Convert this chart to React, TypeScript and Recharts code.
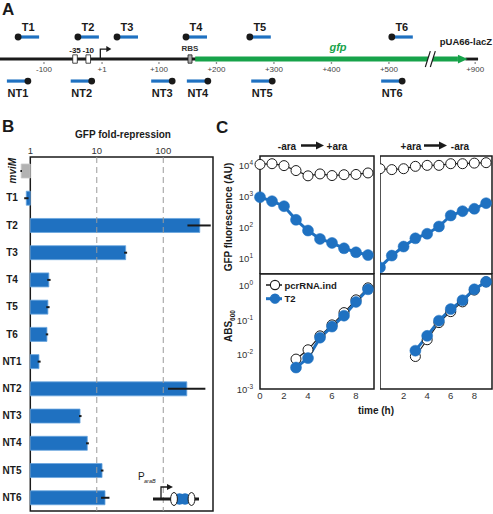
import React from 'react';
import {
  BarChart, Bar, Cell, XAxis, YAxis, ReferenceLine, ReferenceArea, ReferenceDot,
  ScatterChart, Scatter, LineChart, Line, Legend,
} from 'recharts';

const FONT = '"Liberation Sans", Arial, Helvetica, sans-serif';
const BLUE = '#1f71c1';
const GREEN = '#17a34a';
const INK = '#1a1a1a';

// ---- A: reporter map (positions in bp, the part past the break is squeezed)
const guideNames = ['T1', 'T2', 'T3', 'T4', 'T5', 'T6', 'NT1', 'NT2', 'NT3', 'NT4', 'NT5', 'NT6'];
const guidePos = [-145, -41, 27, 147, 258, 505, -128, -17, 123, 185, 297, 523];
const guideStrand = [1, 1, 1, 1, 1, 1, -1, -1, -1, -1, -1, -1];
const mapTicks = [-100, 1, 100, 200, 300, 400, 500, 650];
const mapTickLabels = ['-100', '+1', '+100', '+200', '+300', '+400', '+500', '+900'];
const boxPos = [-46, -23];
const boxLabels = ['-35', '-10'];
const rbsPos = 154;
const gfpStart = 163;
const gfpBodyEnd = 620;
const gfpTip = 637;
const breakPos = 565;
const mapEnd = 655;

// ---- B: fold repression
const genes = ['mviM', 'T1', 'T2', 'T3', 'T4', 'T5', 'T6', 'NT1', 'NT2', 'NT3', 'NT4', 'NT5', 'NT6'];
const foldRepression = [0.73, 0.87, 354, 27.2, 1.9, 1.84, 1.78, 1.35, 226, 5.6, 7.2, 12.0, 13.3];
const foldLow = [0.71, 0.81, 231, 25.8, 1.8, 1.74, 1.71, 1.29, 118, 5.4, 6.9, 11.5, 11.6];
const foldHigh = [0.75, 0.94, 518, 28.6, 2.02, 1.95, 1.86, 1.43, 430, 5.9, 7.6, 12.6, 15.5];
const foldTicks = [1, 10, 100];

// ---- C: time courses
const hoursGfp = [0, 1, 2, 3, 4, 5, 6, 7, 8, 9];
const gfpOnCtrl = [10700, 11300, 9800, 6800, 4600, 5300, 4700, 5000, 5100, 5700];
const gfpOnT2 = [950, 705, 486, 177, 80, 43, 32, 21.5, 16, 13];
const gfpOffCtrl = [7800, 7300, 7800, 9300, 10000, 10000, 11300, 11300, 11800, 12200];
const gfpOffT2 = [5.2, 12.5, 24.4, 45, 63, 108, 244, 336, 401, 608];
const hoursAbs = [3, 4, 5, 6, 7, 8, 9];
const absOnCtrl = [0.0074, 0.0138, 0.035, 0.073, 0.166, 0.39, 0.87];
const absOnT2 = [0.0042, 0.0079, 0.031, 0.065, 0.135, 0.34, 0.79];
const absOffCtrl = [0.0088, 0.027, 0.085, 0.177, 0.34, 0.75, 1.3];
const absOffT2 = [0.013, 0.035, 0.097, 0.21, 0.38, 0.79, 1.3];
const gfpTicks = [10, 100, 1000, 10000];
const absTicks = [0.001, 0.01, 0.1, 1];
const hourTicks = [0, 2, 4, 6, 8];

const txt = { fontFamily: FONT, fill: INK };

// ------------------------------------------------------------------ A
const GuideShape = (props: any) => {
  const { cx, cy, payload } = props;
  const top = payload.strand > 0;
  return (
    <g>
      <line x1={cx} x2={top ? cx + 21 : cx - 21} y1={cy} y2={cy} stroke={BLUE} strokeWidth={3.2} />
      <circle cx={cx} cy={cy} r={3.4} fill={INK} />
      <text x={top ? cx + 10 : cx - 10} y={top ? cy - 6 : cy + 16} textAnchor="middle"
        fontSize={11} fontWeight={700} {...txt}>{payload.name}</text>
    </g>
  );
};

function MapPanel() {
  const guides = guideNames.map((name, i) => ({ name, pos: guidePos[i], strand: guideStrand[i] }));
  return (
    <ScatterChart width={493} height={100} margin={{ top: 0, right: 0, bottom: 0, left: 0 }}>
      <XAxis type="number" dataKey="pos" domain={[-176.5, 681]} hide />
      <YAxis type="number" dataKey="strand" domain={[-1.86, 2.68]} hide />
      <ReferenceArea x1={-176.5} x2={gfpStart + 2} y1={-0.065} y2={0.065} fill={INK} fillOpacity={1} />
      <ReferenceArea x1={gfpTip - 4} x2={mapEnd} y1={-0.065} y2={0.065} fill={INK} fillOpacity={1} />
      <ReferenceArea x1={gfpStart} x2={gfpBodyEnd} y1={-0.115} y2={0.115} fill={GREEN} fillOpacity={1} />
      <ReferenceArea x1={gfpBodyEnd} x2={gfpTip} y1={-0.2} y2={0.2} fill={GREEN} fillOpacity={1}
        shape={(p: any) => (
          <polygon points={`${p.x},${p.y} ${p.x + p.width},${p.y + p.height / 2} ${p.x},${p.y + p.height}`} fill={GREEN} />
        )} />
      <ReferenceArea x1={breakPos} x2={breakPos + 8} y1={-0.36} y2={0.36}
        shape={(p: any) => (
          <g>
            <polygon points={`${p.x - 1},${p.y + p.height} ${p.x + 4},${p.y} ${p.x + 9},${p.y} ${p.x + 4},${p.y + p.height}`} fill="#fff" />
            <line x1={p.x - 1} y1={p.y + p.height} x2={p.x + 4} y2={p.y} stroke={INK} strokeWidth={1.2} />
            <line x1={p.x + 4} y1={p.y + p.height} x2={p.x + 9} y2={p.y} stroke={INK} strokeWidth={1.2} />
          </g>
        )} />
      {boxPos.map((b, i) => (
        <ReferenceArea key={b} x1={b - 4} x2={b + 4} y1={-0.19} y2={0.19} fill="#fff" fillOpacity={1} stroke={INK} strokeWidth={0.8}
          label={{ value: boxLabels[i], position: 'top', offset: 2, fontSize: 8, fontWeight: 700, fill: INK, fontFamily: FONT }} />
      ))}
      <ReferenceArea x1={rbsPos - 3.5} x2={rbsPos + 3.5} y1={-0.19} y2={0.19} fill="#a8a8a8" fillOpacity={1} stroke={INK} strokeWidth={0.8}
        label={{ value: 'RBS', position: 'top', offset: 4, fontSize: 8, fontWeight: 700, fill: '#333', fontFamily: FONT }} />
      <ReferenceDot x={-2} y={0} r={0}
        shape={(p: any) => (
          <g>
            <path d={`M${p.cx},${p.cy} V${p.cy - 10} H${p.cx + 7}`} fill="none" stroke={INK} strokeWidth={1.3} />
            <polygon points={`${p.cx + 6},${p.cy - 13} ${p.cx + 11},${p.cy - 10} ${p.cx + 6},${p.cy - 7}`} fill={INK} />
          </g>
        )} />
      {mapTicks.map((t, i) => (
        <ReferenceDot key={t} x={t} y={0} r={0}
          shape={(p: any) => (
            <g>
              <circle cx={p.cx} cy={p.cy + 4} r={0.8} fill="#555" />
              <text x={p.cx} y={p.cy + 13} textAnchor="middle" fontSize={8} fill="#444" fontFamily={FONT}>{mapTickLabels[i]}</text>
            </g>
          )} />
      ))}
      <Scatter data={guides} shape={GuideShape} isAnimationActive={false} />
    </ScatterChart>
  );
}

// ------------------------------------------------------------------ B
const GeneTick = (props: any) => {
  const { x, y, payload } = props;
  if (payload.value === 'mviM') {
    return (
      <g transform={`translate(${x - 8},${y})`}>
        <g transform="rotate(-90)">
          <text x={0} y={0} dy={3.5} textAnchor="middle" fontSize={10} fontWeight={700} fontStyle="italic" {...txt}>mviM</text>
        </g>
      </g>
    );
  }
  return (
    <text x={x - 8} y={y} dy={3.5} textAnchor="middle" fontSize={10} fontWeight={700} {...txt}>{payload.value}</text>
  );
};

const ErrShape = (p: any) => (
  <line x1={p.x} x2={p.x + p.width} y1={p.y + p.height / 2} y2={p.y + p.height / 2} stroke={INK} strokeWidth={2} />
);

function FoldPanel() {
  const rows = genes.map((gene, i) => ({
    gene,
    fold: [Math.min(1, foldRepression[i]), Math.max(1, foldRepression[i])],
    err: [foldLow[i], foldHigh[i]],
  }));
  return (
    <BarChart layout="vertical" width={216} height={374} data={rows}
      margin={{ top: 5, right: 3, bottom: 3, left: 0 }} barGap={-14}>
      <XAxis type="number" orientation="top" scale="log" domain={[0.7, 560]} ticks={foldTicks}
        height={12} axisLine={false} tickLine={false} tickSize={0} tickMargin={3}
        tick={{ fontSize: 9.5, fill: '#333', fontFamily: FONT }} />
      <YAxis type="category" dataKey="gene" width={20} axisLine={false} tickLine={false}
        tickSize={0} tickMargin={0} interval={0} tick={<GeneTick />} />
      <ReferenceLine x={10} stroke="#9a9a9a" strokeDasharray="6 4" />
      <ReferenceLine x={100} stroke="#9a9a9a" strokeDasharray="6 4" />
      <Bar dataKey="fold" barSize={14} isAnimationActive={false}>
        {rows.map((r) => (
          <Cell key={r.gene} fill={r.gene === 'mviM' ? '#b2b2b2' : BLUE}
            stroke={r.gene === 'mviM' ? '#c8c8c8' : '#6aa6de'} strokeWidth={0.8} />
        ))}
      </Bar>
      <Bar dataKey="err" barSize={14} shape={ErrShape} isAnimationActive={false} />
      <ReferenceArea x1={1} x2={560} fill="none" stroke={INK} strokeWidth={1.5} />
    </BarChart>
  );
}

// ------------------------------------------------------------------ C
const PowTick = (props: any) => {
  const { x, y, payload } = props;
  const exp = Math.round(Math.log10(payload.value));
  return (
    <text x={x} y={y} dy={3.5} textAnchor="end" fontSize={9.5} fill="#333" fontFamily={FONT}>
      10<tspan dy={-4} fontSize={6.5}>{exp}</tspan>
    </text>
  );
};

const legendEntries = [
  { label: 'pcrRNA.ind', fill: '#fff', stroke: INK, width: 1.5 },
  { label: 'T2', fill: BLUE, stroke: BLUE, width: 3 },
];

const LegendBox = () => (
  <svg width={100} height={30}>
    {legendEntries.map((e, i) => (
      <g key={e.label} transform={`translate(0,${8 + i * 13.7})`}>
        <line x1={4} x2={20} y1={0} y2={0} stroke={e.stroke} strokeWidth={e.width} />
        <circle cx={13} cy={0} r={4.6} fill={e.fill} stroke={e.stroke} strokeWidth={1.1} />
        <text x={22.5} y={3.5} fontSize={9.5} fontWeight={700} {...txt}>{e.label}</text>
      </g>
    ))}
  </svg>
);

type PanelProps = {
  left: number; top: number; width: number; height: number;
  hours: number[]; ctrl: number[]; t2: number[];
  yDomain: [number, number]; yTicks: number[];
  showY: boolean; showX: boolean; legend?: boolean;
};

function TimePanel(p: PanelProps) {
  const rows = p.hours.map((t, i) => ({ t, ctrl: p.ctrl[i], t2: p.t2[i] }));
  return (
    <div style={{ position: 'absolute', left: p.left, top: p.top }}>
      <LineChart width={p.width} height={p.height} data={rows}
        margin={{ top: 6, right: 1, bottom: 0, left: 0 }}>
        <XAxis dataKey="t" type="number" domain={[0, 9.5]} ticks={hourTicks} hide={!p.showX}
          height={21} axisLine={false} tickLine={false} tickSize={0} tickMargin={3}
          tick={{ fontSize: 9.5, fill: '#333', fontFamily: FONT }} />
        <YAxis type="number" scale="log" domain={p.yDomain} ticks={p.yTicks} hide={!p.showY}
          width={45} axisLine={false} tickLine={false} tickSize={0} tickMargin={7} tick={<PowTick />} />
        <ReferenceArea x1={0} x2={9.5} y1={p.yDomain[0]} y2={p.yDomain[1]} fill="none" stroke={INK} strokeWidth={1.5} />
        <Line dataKey="ctrl" stroke={INK} strokeWidth={1.2}
          dot={{ r: 5, fill: '#fff', stroke: INK, strokeWidth: 1 }} isAnimationActive={false} />
        <Line dataKey="t2" stroke={BLUE} strokeWidth={3}
          dot={{ r: 5.5, fill: BLUE, stroke: BLUE, strokeWidth: 0.5 }} isAnimationActive={false} />
        {p.legend && (
          <Legend layout="vertical" align="center" verticalAlign="middle" content={LegendBox}
            wrapperStyle={{ left: 47, top: 9, width: 100, height: 30 }} />
        )}
      </LineChart>
    </div>
  );
}

const Arrow = ({ x, y }: { x: number; y: number }) => (
  <g>
    <line x1={x} x2={x + 16} y1={y} y2={y} stroke={INK} strokeWidth={2.5} />
    <polygon points={`${x + 15},${y - 4} ${x + 23},${y} ${x + 15},${y + 4}`} fill={INK} />
  </g>
);

export default function App() {
  const bold = { fontFamily: FONT, fontWeight: 700, fill: INK } as const;
  return (
    <div style={{ position: 'absolute', left: 0, top: 0, width: 493, height: 514, background: '#fff', overflow: 'hidden' }}>
      <div style={{ position: 'absolute', left: 0, top: 0 }}>
        <MapPanel />
      </div>
      <div style={{ position: 'absolute', left: 0, top: 140 }}>
        <FoldPanel />
      </div>
      <TimePanel left={215} top={150} width={160} height={124} hours={hoursGfp} ctrl={gfpOnCtrl} t2={gfpOnT2}
        yDomain={[3.2, 20000]} yTicks={gfpTicks} showY showX={false} />
      <TimePanel left={380} top={150} width={113} height={124} hours={hoursGfp} ctrl={gfpOffCtrl} t2={gfpOffT2}
        yDomain={[3.2, 20000]} yTicks={gfpTicks} showY={false} showX={false} />
      <TimePanel left={215} top={268} width={160} height={142} hours={hoursAbs} ctrl={absOnCtrl} t2={absOnT2}
        yDomain={[0.001, 2.2]} yTicks={absTicks} showY showX legend />
      <TimePanel left={380} top={268} width={113} height={142} hours={hoursAbs} ctrl={absOffCtrl} t2={absOffT2}
        yDomain={[0.001, 2.2]} yTicks={absTicks} showY={false} showX />

      <svg width={493} height={514} style={{ position: 'absolute', left: 0, top: 0, pointerEvents: 'none' }}>
        <text x={2} y={15} fontSize={17} {...bold}>A</text>
        <text x={2} y={132} fontSize={17} {...bold}>B</text>
        <text x={216} y={133} fontSize={17} {...bold}>C</text>

        <text x={338} y={51} textAnchor="middle" fontSize={11} fontStyle="italic" fontFamily={FONT} fontWeight={700} fill={GREEN}>gfp</text>
        <text x={492} y={45} textAnchor="end" fontSize={9.5} {...bold}>pUA66-lacZ</text>

        <text x={123} y={138} textAnchor="middle" fontSize={10} {...bold}>GFP fold-repression</text>

        <text x={138} y={480} fontSize={10} fontFamily={FONT} fill={INK}>P</text>
        <text x={144} y={483} fontSize={5.5} fontStyle="italic" fontFamily={FONT} fill={INK}>araB</text>
        <line x1={153} x2={199} y1={499} y2={499} stroke={INK} strokeWidth={3} />
        <path d="M161,499 V487 H168" fill="none" stroke={INK} strokeWidth={1.3} />
        <polygon points="167,484 173,487 167,490" fill={INK} />
        <circle cx={179.5} cy={499} r={5.8} fill={BLUE} />
        <circle cx={185} cy={499} r={5.8} fill={BLUE} />
        <ellipse cx={174} cy={499} rx={3.4} ry={6.5} fill="#fff" stroke={INK} strokeWidth={1} />
        <ellipse cx={191.5} cy={499} rx={3.4} ry={6.5} fill="#fff" stroke={INK} strokeWidth={1} />

        <text x={287} y={149.5} textAnchor="middle" fontSize={10} {...bold}>-ara</text>
        <Arrow x={301} y={145.5} />
        <text x={337} y={149.5} textAnchor="middle" fontSize={10} {...bold}>+ara</text>
        <text x={411} y={149.5} textAnchor="middle" fontSize={10} {...bold}>+ara</text>
        <Arrow x={424} y={145.5} />
        <text x={460} y={149.5} textAnchor="middle" fontSize={10} {...bold}>-ara</text>

        <text transform="translate(232,217) rotate(-90)" textAnchor="middle" fontSize={10} {...bold}>GFP fluorescence (AU)</text>
        <text transform="translate(232,326) rotate(-90)" textAnchor="middle" fontSize={10} {...bold}>
          ABS<tspan fontSize={6.5} dy={3}>600</tspan>
        </text>
        <text x={376} y={414} textAnchor="middle" fontSize={10} {...bold}>time (h)</text>
      </svg>
    </div>
  );
}
